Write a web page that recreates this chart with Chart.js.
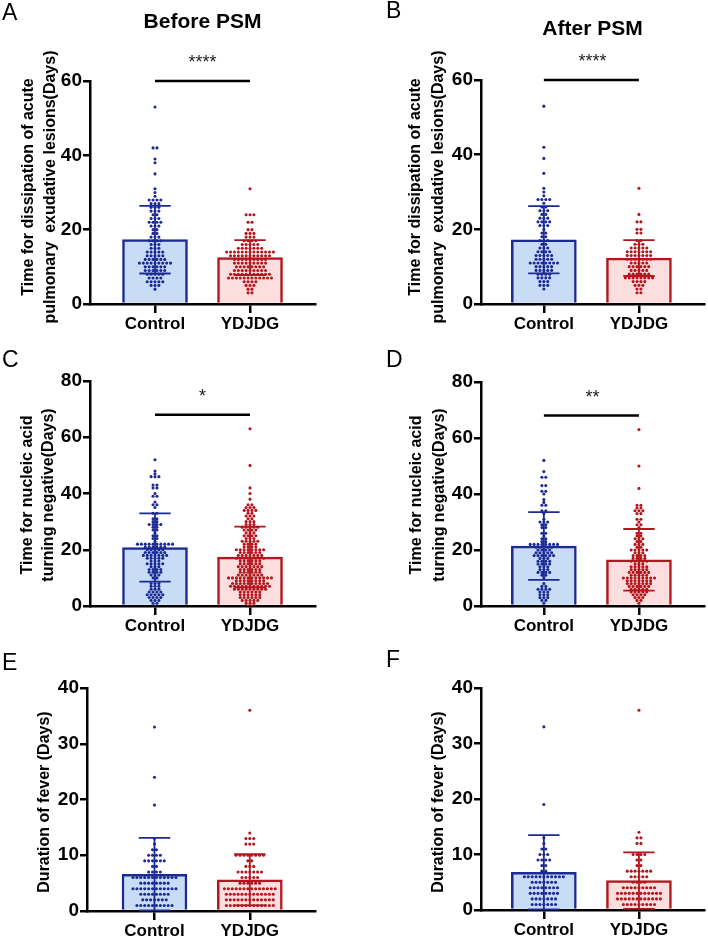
<!DOCTYPE html>
<html>
<head>
<meta charset="utf-8">
<script src="https://cdn.jsdelivr.net/npm/chart.js@4.4.0/dist/chart.umd.min.js"></script>
<style>
  body { margin: 0; background: #fff; width: 708px; height: 936px; position: relative; overflow: hidden; }
  canvas { position: absolute; }
</style>
</head>
<body>
<canvas id="pA" width="354" height="340" style="left:0;top:0"></canvas>
<canvas id="pB" width="354" height="340" style="left:354px;top:0"></canvas>
<canvas id="pC" width="354" height="300" style="left:0;top:340px"></canvas>
<canvas id="pD" width="354" height="300" style="left:354px;top:340px"></canvas>
<canvas id="pE" width="354" height="296" style="left:0;top:640px"></canvas>
<canvas id="pF" width="354" height="296" style="left:354px;top:640px"></canvas>
<script>
// groups and labels
const groups = ['Control', 'YDJDG'];
const letters = ['A', 'B', 'C', 'D', 'E', 'F'];
const headings = ['Before PSM', 'After PSM', '', '', '', ''];
const yTitleLesion = ['Time for dissipation of acute', 'pulmonary  exudative lesions(Days)'];
const yTitleNucleic = ['Time for nucleic acid', 'turning negative(Days)'];
const yTitleFever = ['Duration of fever (Days)'];
const sigText = ['****', '****', '*', '**', '', ''];
const sigLevel = [60, 60, 68, 68, null, null];

// bar heights (mean) and error bars (SD)
const meanA = [17.3, 12.5], sdA = [9.1, 4.7];
const meanB = [17.2, 12.3], sdB = [9.0, 4.8];
const meanC = [20.8, 17.4], sdC = [12.1, 10.8];
const meanD = [21.4, 16.5], sdD = [12.1, 11.0];
const meanE = [6.6, 5.6], sdE = [6.5, 4.6];
const meanF = [6.8, 5.3], sdF = [6.7, 5.1];

// individual points: [days, number of patients]
const aCtrl = [[53,1],[42,2],[39,1],[38,1],[35,1],[31,1],[30,1],[29,1],[28,4],[27,3],[26,3],[25,3],[24,2],[23,3],[22,4],[21,3],[20,2],[19,2],[18,3],[17,4],[16,3],[15,3],[14,5],[13,5],[12,6],[11,9],[10,6],[9,6],[8,5],[7,4],[6,5],[5,3],[4,1]];
const aYdjdg = [[31,1],[24,3],[22,2],[20,2],[19,3],[18,3],[17,4],[16,5],[15,7],[14,13],[13,11],[12,9],[11,9],[10,8],[9,9],[8,11],[7,12],[6,4],[5,3],[4,2],[3,2]];
const bCtrl = [[53,1],[42,1],[39,1],[35,1],[31,1],[30,1],[29,1],[28,4],[27,1],[26,2],[25,3],[24,2],[23,3],[22,4],[21,3],[20,1],[19,2],[18,2],[17,3],[16,2],[15,3],[14,4],[13,5],[12,5],[11,8],[10,5],[9,5],[8,4],[7,4],[6,3],[5,3],[4,1]];
const bYdjdg = [[31,1],[24,1],[22,2],[20,2],[19,2],[17,2],[16,3],[15,5],[14,7],[13,7],[12,7],[11,5],[10,6],[9,5],[8,6],[7,8],[6,4],[5,3],[4,2],[3,2]];
const cCtrl = [[52,1],[48,1],[47,1],[46,3],[43,2],[42,2],[40,1],[39,2],[37,1],[36,2],[35,1],[33,2],[31,2],[30,2],[29,4],[28,2],[27,2],[26,1],[25,2],[24,2],[23,1],[22,10],[21,6],[20,5],[19,6],[18,7],[17,5],[16,3],[15,5],[14,3],[13,4],[12,4],[11,3],[10,2],[8,3],[7,3],[6,3],[5,4],[4,5],[3,4],[2,3],[1,2],[0,1]];
const cYdjdg = [[63,1],[50,1],[42,1],[40,1],[38,1],[36,2],[35,3],[34,4],[33,2],[32,3],[31,2],[30,3],[29,3],[28,5],[27,4],[26,3],[25,4],[24,3],[23,5],[22,4],[21,4],[20,8],[19,6],[18,7],[17,8],[16,6],[15,6],[14,7],[13,6],[12,6],[11,7],[10,12],[9,8],[8,10],[7,11],[6,9],[5,6],[4,6],[3,6],[2,5],[1,3],[0,2]];
const dCtrl = [[52,1],[48,1],[46,2],[43,2],[41,2],[40,1],[38,1],[37,1],[36,2],[34,2],[33,1],[31,1],[30,3],[29,2],[28,2],[26,2],[25,1],[24,2],[23,2],[22,8],[21,5],[20,4],[19,5],[18,6],[17,3],[16,4],[15,4],[14,3],[13,3],[12,4],[11,2],[10,1],[8,1],[7,2],[6,4],[5,3],[4,3],[3,3],[2,2],[1,1]];
const dYdjdg = [[63,1],[50,1],[42,1],[36,2],[35,2],[34,3],[33,2],[31,2],[30,1],[29,2],[28,1],[26,2],[25,2],[24,3],[23,2],[22,3],[21,2],[20,5],[19,3],[18,4],[17,4],[16,5],[15,3],[14,5],[13,5],[12,6],[11,5],[10,9],[9,7],[8,7],[7,6],[6,5],[5,5],[4,4],[3,3],[2,2],[1,1]];
const eCtrl = [[33,1],[24,1],[19,1],[13,1],[12,1],[11,2],[10,4],[9,6],[8,2],[7,4],[6,12],[5,8],[4,12],[3,8],[2,7],[1,10]];
const eYdjdg = [[36,1],[14,1],[13,3],[12,3],[10,8],[9,2],[8,3],[7,7],[6,5],[5,6],[4,14],[3,13],[2,13],[1,13]];
const fCtrl = [[33,1],[19,1],[13,1],[12,1],[11,2],[10,3],[9,4],[8,2],[7,2],[6,11],[5,7],[4,8],[3,8],[2,7],[1,7]];
const fYdjdg = [[36,1],[14,1],[13,2],[12,2],[10,4],[9,2],[8,2],[7,7],[6,5],[5,4],[4,9],[3,12],[2,12],[1,9]];

const FONT = '"Liberation Sans", Arial, Helvetica, sans-serif';
const LINE = ['#1c2a94', '#b3161e'];
const FILL = ['#c8dcf5', '#fcdede'];
const DOT_GAP = 0.041;   // horizontal spacing of the swarm, in category units
const CAP = 0.165;       // half width of the error bar caps

function swarm(hist, gi) {
  const pts = [];
  hist.forEach(([v, n]) => {
    for (let i = 0; i < n; i++) pts.push({ x: gi + (i - (n - 1) / 2) * DOT_GAP, y: v });
  });
  return pts;
}

function makePanel(k, p, g) {
  const decor = {
    id: 'decor' + k,
    afterDatasetsDraw(chart) {
      const { ctx, scales: { x, y } } = chart;
      ctx.save();
      ctx.lineWidth = 1.8;
      [0, 1].forEach(i => {
        const cx = x.getPixelForValue(i);
        const cap = x.getPixelForValue(i + CAP) - cx;
        const top = y.getPixelForValue(p.mean[i] + p.sd[i]);
        const bot = y.getPixelForValue(Math.max(0, p.mean[i] - p.sd[i]));
        ctx.strokeStyle = LINE[i];
        ctx.beginPath();
        ctx.moveTo(cx, top); ctx.lineTo(cx, bot);
        ctx.moveTo(cx - cap, top); ctx.lineTo(cx + cap, top);
        ctx.moveTo(cx - cap, bot); ctx.lineTo(cx + cap, bot);
        ctx.stroke();
      });
      ctx.restore();
    },
    afterDraw(chart) {
      const { ctx, chartArea, scales: { x, y } } = chart;
      const mid = (chartArea.left + chartArea.right) / 2;
      ctx.save();
      ctx.fillStyle = '#000';
      // panel letter
      ctx.font = '23px ' + FONT;
      ctx.textAlign = 'left';
      ctx.textBaseline = 'alphabetic';
      ctx.fillText(letters[k], g.letter[0], g.letter[1]);
      // heading
      if (headings[k]) {
        ctx.font = 'bold 21px ' + FONT;
        ctx.textAlign = 'center';
        ctx.fillText(headings[k], mid, g.headY);
      }
      // significance
      if (sigLevel[k] !== null) {
        const ly = y.getPixelForValue(sigLevel[k]);
        ctx.strokeStyle = '#000';
        ctx.lineWidth = 2.5;
        ctx.beginPath();
        ctx.moveTo(x.getPixelForValue(0), ly);
        ctx.lineTo(x.getPixelForValue(1), ly);
        ctx.stroke();
        ctx.font = '18px ' + FONT;
        ctx.fillStyle = '#222';
        ctx.textAlign = 'center';
        ctx.fillText(sigText[k], mid, ly - 13);
      }
      // y axis title
      ctx.fillStyle = '#000';
      ctx.font = 'bold 16px ' + FONT;
      ctx.textAlign = 'center';
      ctx.textBaseline = 'middle';
      p.yTitle.forEach((line, i) => {
        ctx.save();
        ctx.translate(g.yTitleX[i], g.yMid);
        ctx.rotate(-Math.PI / 2);
        ctx.fillText(line, 0, 0);
        ctx.restore();
      });
      ctx.restore();
    }
  };

  const tickFont = { family: FONT, size: 19, weight: 'bold' };
  new Chart(document.getElementById('p' + letters[k]), {
    type: 'bar',
    data: {
      datasets: [
        { type: 'scatter', data: swarm(p.ctrl, 0), pointRadius: 1.55, pointBorderWidth: 0,
          pointBackgroundColor: LINE[0], order: 1 },
        { type: 'scatter', data: swarm(p.ydjdg, 1), pointRadius: 1.55, pointBorderWidth: 0,
          pointBackgroundColor: LINE[1], order: 1 },
        { type: 'bar', data: [{ x: 0, y: p.mean[0] }, { x: 1, y: p.mean[1] }],
          backgroundColor: FILL, borderColor: LINE, borderWidth: 2.5, borderSkipped: 'start',
          barThickness: 65, order: 2 }
      ]
    },
    options: {
      responsive: false,
      animation: false,
      events: [],
      layout: { padding: { top: g.t, right: g.cw - g.r, left: 0, bottom: 0 } },
      plugins: { legend: { display: false }, tooltip: { enabled: false } },
      scales: {
        x: {
          type: 'linear', min: g.xMin, max: 1.684, offset: false,
          afterBuildTicks: a => { a.ticks = [{ value: 0 }, { value: 1 }]; },
          afterFit: a => { a.height = g.ch - g.b; },
          grid: { display: true, drawOnChartArea: false, offset: false, tickLength: 9,
                  color: '#000', lineWidth: 2.5 },
          border: { display: true, color: '#000', width: 2.5 },
          ticks: { callback: v => groups[v], color: '#000', autoSkip: false, maxRotation: 0,
                   padding: 1, font: { family: FONT, size: 17, weight: 'bold' } }
        },
        y: {
          min: 0, max: p.yMax,
          afterFit: a => { a.width = g.l; },
          grid: { display: true, drawOnChartArea: false, tickLength: 7, color: '#000', lineWidth: 2.5 },
          border: { display: true, color: '#000', width: 2.5 },
          ticks: { stepSize: p.step, color: '#000', padding: 1, font: tickFont }
        }
      }
    },
    plugins: [decor]
  });
}

makePanel(0, { ctrl: aCtrl, ydjdg: aYdjdg, mean: meanA, sd: sdA, yMax: 60, step: 20, yTitle: yTitleLesion },
  { cw: 354, ch: 340, l: 90, r: 315, t: 81, b: 304, xMin: -0.684, letter: [2, 20], headY: 28, yTitleX: [29, 51], yMid: 187 });
makePanel(1, { ctrl: bCtrl, ydjdg: bYdjdg, mean: meanB, sd: sdB, yMax: 60, step: 20, yTitle: yTitleLesion },
  { cw: 354, ch: 340, l: 127, r: 352, t: 80, b: 304, xMin: -0.661, letter: [32, 18], headY: 35, yTitleX: [62, 85], yMid: 187 });
makePanel(2, { ctrl: cCtrl, ydjdg: cYdjdg, mean: meanC, sd: sdC, yMax: 80, step: 20, yTitle: yTitleNucleic },
  { cw: 354, ch: 300, l: 90, r: 315, t: 41, b: 266, xMin: -0.684, letter: [2, 27], headY: 0, yTitleX: [28, 49], yMid: 155 });
makePanel(3, { ctrl: dCtrl, ydjdg: dYdjdg, mean: meanD, sd: sdD, yMax: 80, step: 20, yTitle: yTitleNucleic },
  { cw: 354, ch: 300, l: 127, r: 352, t: 42, b: 266, xMin: -0.661, letter: [32, 27], headY: 0, yTitleX: [63, 86], yMid: 155 });
makePanel(4, { ctrl: eCtrl, ydjdg: eYdjdg, mean: meanE, sd: sdE, yMax: 40, step: 10, yTitle: yTitleFever },
  { cw: 354, ch: 296, l: 87, r: 315, t: 48, b: 271, xMin: -0.708, letter: [2, 30], headY: 0, yTitleX: [45], yMid: 162 });
makePanel(5, { ctrl: fCtrl, ydjdg: fYdjdg, mean: meanF, sd: sdF, yMax: 40, step: 10, yTitle: yTitleFever },
  { cw: 354, ch: 296, l: 127, r: 352, t: 48, b: 270, xMin: -0.661, letter: [32, 27], headY: 0, yTitleX: [85], yMid: 162 });
</script>
</body>
</html>
